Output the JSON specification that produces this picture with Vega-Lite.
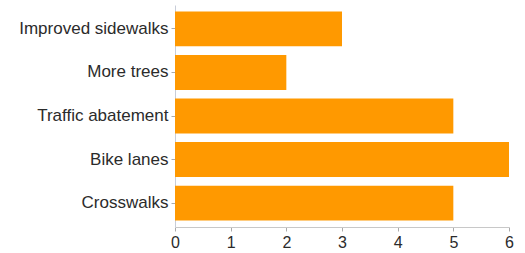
{
  "$schema": "https://vega.github.io/schema/vega-lite/v6.json",
  "width": 334,
  "height": 222,
  "autosize": {"type": "none"},
  "padding": {"left": 175, "top": 5, "right": 16, "bottom": 26},
  "background": "white",
  "data": {
    "values": [
      {"option": "Improved sidewalks", "count": 3},
      {"option": "More trees", "count": 2},
      {"option": "Traffic abatement", "count": 5},
      {"option": "Bike lanes", "count": 6},
      {"option": "Crosswalks", "count": 5}
    ]
  },
  "mark": {"type": "bar", "color": "#ff9900"},
  "encoding": {
    "y": {
      "field": "option",
      "type": "nominal",
      "sort": null,
      "title": null,
      "scale": {"paddingInner": 0.2, "paddingOuter": 0.15},
      "axis": {
        "labelFont": "Liberation Sans",
        "labelFontSize": 17,
        "labelColor": "#2b2b2b",
        "labelPadding": 3,
        "tickSize": 4,
        "tickColor": "#aaaaaa",
        "domainColor": "#c8cdd8",
        "labelLimit": 300
      }
    },
    "x": {
      "field": "count",
      "type": "quantitative",
      "title": null,
      "scale": {"domain": [0, 6], "nice": false},
      "axis": {
        "values": [0, 1, 2, 3, 4, 5, 6],
        "grid": false,
        "labelFont": "Liberation Sans",
        "labelFontSize": 16,
        "labelColor": "#2b2b2b",
        "labelPadding": 3,
        "tickSize": 4,
        "tickColor": "#aaaaaa",
        "domainColor": "#c8c8c8",
        "labelFlush": false
      }
    }
  },
  "config": {"view": {"stroke": null}}
}
